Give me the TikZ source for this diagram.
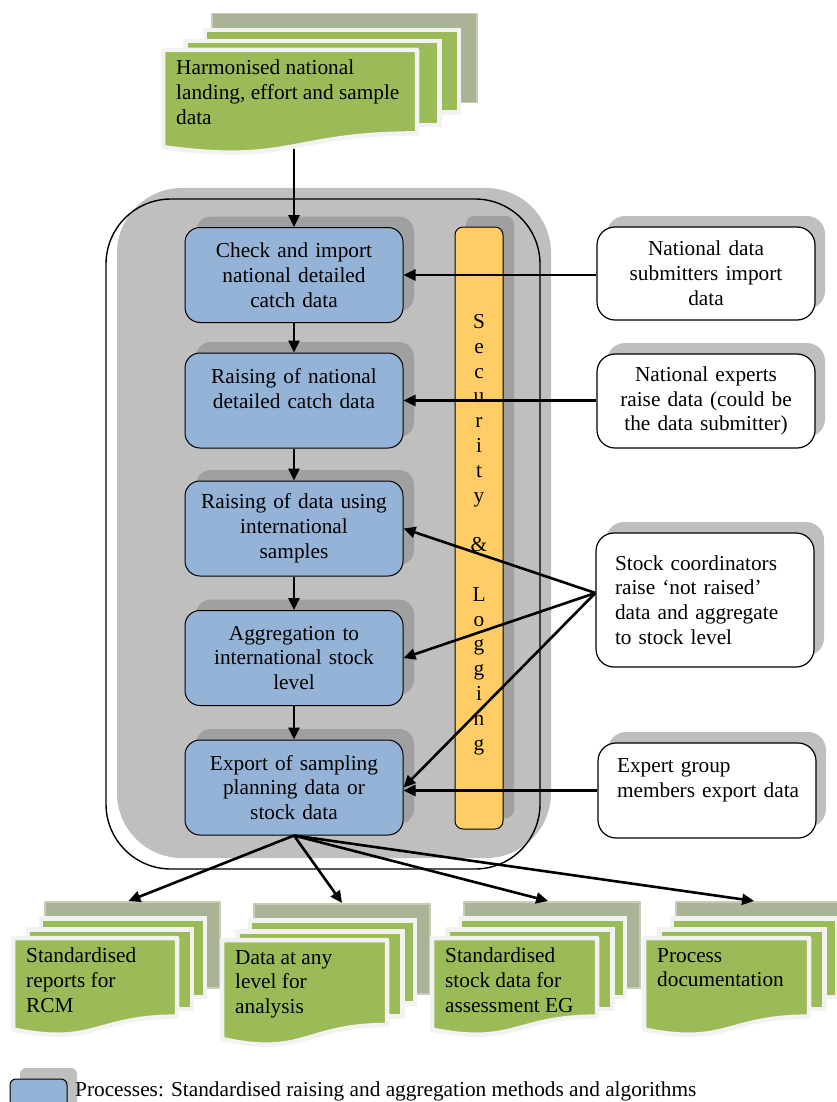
\documentclass[tikz,border=0pt]{standalone}
\usepackage{fontspec}
\setmainfont{Liberation Serif}
\usetikzlibrary{arrows.meta,shadows,calc}

\definecolor{procblue}{HTML}{95B3D7}
\definecolor{panelgrey}{HTML}{BFBFBF}
\definecolor{darkshade}{HTML}{A0A0A0}
\definecolor{secyellow}{HTML}{FFCC66}
\definecolor{sheetgreen}{HTML}{9BBB59}
\definecolor{sheetback}{HTML}{A9B496}
\definecolor{sheetbackedge}{HTML}{C6CEB8}
\definecolor{sheetedge}{HTML}{F2F2F2}

\tikzset{
  txt/.style={font=\fontsize{21.3}{24.8}\selectfont},
  process/.style={txt, draw=black, line width=1pt, fill=procblue,
    rounded corners=15pt, minimum width=218pt, minimum height=95pt,
    text width=205pt, align=center, inner sep=0pt,
    general shadow={fill=darkshade, shadow xshift=11pt, shadow yshift=11pt}},
  actor/.style={txt, draw=black, line width=1.2pt, fill=white,
    rounded corners=18pt, minimum width=218pt, minimum height=94pt,
    text width=205pt, align=center, inner sep=0pt,
    general shadow={fill=panelgrey, shadow xshift=10pt, shadow yshift=11pt}},
  actorleft/.style={actor, text width=180pt, align=left},
  container/.style={draw=black, line width=1.4pt, rounded corners=65pt,
    minimum width=434pt, minimum height=670pt,
    general shadow={fill=panelgrey, shadow xshift=11pt, shadow yshift=11pt}},
  secbar/.style={draw=black, line width=1pt, fill=secyellow, rounded corners=8pt,
    minimum width=48pt, minimum height=602pt,
    general shadow={fill=darkshade, shadow xshift=11pt, shadow yshift=11pt}},
  sectext/.style={txt, align=center, inner sep=0pt},
  backsheet/.style={fill=sheetback, draw=sheetbackedge, line width=1.5pt,
    anchor=north west, inner sep=0pt},
  sheet/.style={fill=sheetgreen, draw=sheetedge, line width=4.5pt,
    anchor=north west, inner sep=0pt},
  frontsheet/.style={fill=sheetgreen, draw=sheetedge, line width=4.5pt, line join=round},
  doctext/.style={txt, align=left, inner sep=0pt, anchor=north west},
  arr/.style={line width=2.6pt, -{Triangle[length=12pt,width=11pt]}},
}

% stack of document sheets: name, left x, top y, width, height, text
\newcommand\docstack[6]{%
  \node[backsheet, minimum width=#4+11, minimum height=0.5*#5+37]
    (#1-back) at (#2+0.19*#4,#3-37) {};
  \node[sheet, minimum width=#4, minimum height=0.58*#5+22]
    (#1-l3) at (#2+0.157*#4,#3-22) {};
  \node[sheet, minimum width=#4, minimum height=0.7*#5+11]
    (#1-l2) at (#2+0.079*#4,#3-11) {};
  \filldraw[frontsheet] (#2,#3) -- (#2+#4,#3) -- (#2+#4,#3+0.802*#5)
    .. controls (#2+0.5*#4,#3+0.802*#5) and (#2+0.5*#4,#3+1.107*#5) .. (#2,#3+0.934*#5)
    -- cycle;
  \node[doctext] (#1) at (#2+13,#3+10) {#6};
}

\begin{document}
\begin{tikzpicture}[x=1pt,y=-1pt]
\useasboundingbox (0,0) rectangle (836,1102);

% input data
\docstack{harm}{163}{50}{254}{104}{Harmonised national\\landing, effort and sample\\data}
\coordinate (harmtip) at (294,149);

% system frame
\node[container] (frame) at (323,534) {};

% processing steps
\node[process] (b1) at (294,275) {Check and import\\national detailed\\catch data};
\node[process] (b2) at (294,400.5) {Raising of national\\detailed catch data\\\mbox{}};
\node[process] (b3) at (294,528.5) {Raising of data using\\international\\samples};
\node[process] (b4) at (294,658) {Aggregation to\\international stock\\level};
\node[process] (b5) at (294,787.5) {Export of sampling\\planning data or\\stock data};

% security and logging bar
\node[secbar] (sec) at (479,528) {};
\node[sectext] (sectext) at (479,534.5)
  {S\\e\\c\\u\\r\\i\\t\\y\\\mbox{}\\\&\\\mbox{}\\L\\o\\g\\g\\i\\n\\g};

% actors
\node[actor, minimum height=93pt] (r1) at (706,273.5) {National data\\submitters import\\data};
\node[actor] (r2) at (706,401) {National experts\\raise data (could be\\the data submitter)};
\node[actorleft, minimum height=134pt] (r3) at (705,600)
  {Stock coordinators\\raise `not raised'\\data and aggregate\\to stock level};
\node[actorleft, minimum height=95pt] (r4) at (707,790.5)
  {Expert group\\\mbox{members export data}\\\mbox{}};
\coordinate (sc) at ([yshift=7pt]r3.west);

% outputs
\docstack{d1}{13}{938}{164}{98}{Standardised\\reports for\\RCM}
\docstack{d2}{222}{940}{165}{106}{Data at any\\level for\\analysis}
\docstack{d3}{432}{938}{165}{98}{Standardised\\stock data for\\assessment EG}
\docstack{d4}{644}{938}{165}{98}{Process\\documentation}

% legend
\node[draw=black, line width=1pt, fill=procblue, rounded corners=6pt,
  minimum width=57pt, minimum height=40pt,
  general shadow={fill=panelgrey, shadow xshift=10pt, shadow yshift=11pt}]
  (legbox) at (38.5,1099) {};
\node[txt, anchor=base west, inner sep=0pt] (legtext) at (75,1096)
  {Processes: Standardised raising and aggregation methods and algorithms};

% flows
\draw[arr] (harmtip) -- (b1.north);
\draw[arr] (b1) -- (b2);
\draw[arr] (b2) -- (b3);
\draw[arr] (b3) -- (b4);
\draw[arr] (b4) -- (b5);
\draw[arr] (r1.west |- b1.east) -- (b1.east);
\draw[arr] (r2.west |- b2.east) -- (b2.east);
\draw[arr] (sc) -- (b3.east);
\draw[arr] (sc) -- (b4.east);
\draw[arr] (sc) -- (b5.east);
\draw[arr] (r4.west) -- (r4.west -| b5.east);
\draw[arr] (b5.south) -- ([xshift=-4pt]d1-back.north);
\draw[arr] (b5.south) -- (d2-back.north);
\draw[arr] (b5.south) -- ([xshift=-4pt]d3-back.north);
\draw[arr] (b5.south) -- ([xshift=-10pt]d4-back.north);
\end{tikzpicture}
\end{document}
